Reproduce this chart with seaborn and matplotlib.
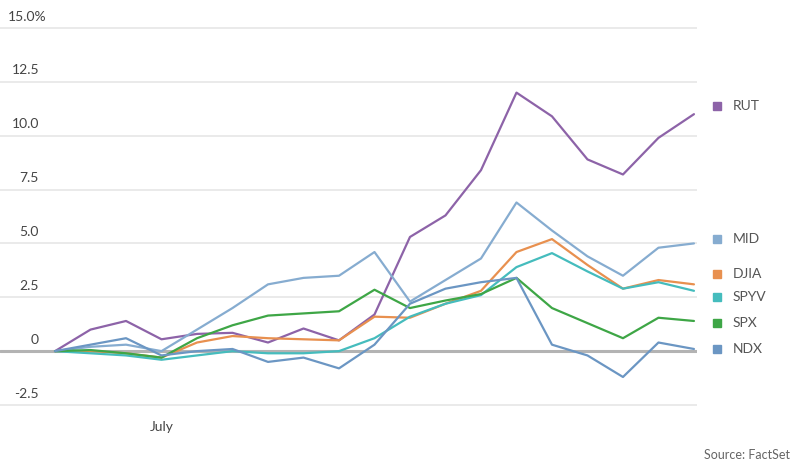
import pandas as pd
import numpy as np
import matplotlib
matplotlib.use("Agg")
import matplotlib.pyplot as plt
import matplotlib.transforms as mtransforms
import seaborn as sns

# data (percent change, 19 trading days)
days = list(range(19))
rut = [0, 1.0, 1.4, 0.55, 0.8, 0.85, 0.4, 1.05, 0.5, 1.7, 5.3, 6.3, 8.4, 12.0, 10.9, 8.9, 8.2, 9.9, 11.0]
mid = [0, 0.2, 0.3, 0.0, 1.0, 2.0, 3.1, 3.4, 3.5, 4.6, 2.3, 3.3, 4.3, 6.9, 5.6, 4.4, 3.5, 4.8, 5.0]
djia = [0, 0.0, -0.1, -0.3, 0.4, 0.7, 0.6, 0.55, 0.5, 1.6, 1.55, 2.2, 2.8, 4.6, 5.2, 4.0, 2.9, 3.3, 3.1]
spyv = [0, -0.1, -0.2, -0.4, -0.2, 0.0, -0.1, -0.1, 0.0, 0.6, 1.6, 2.2, 2.6, 3.9, 4.55, 3.7, 2.9, 3.2, 2.8]
spx = [0, 0.05, -0.1, -0.3, 0.6, 1.2, 1.65, 1.75, 1.85, 2.85, 2.0, 2.35, 2.65, 3.4, 2.0, 1.3, 0.6, 1.55, 1.4]
ndx = [0, 0.3, 0.6, -0.2, 0.0, 0.1, -0.5, -0.3, -0.8, 0.3, 2.2, 2.9, 3.2, 3.4, 0.3, -0.2, -1.2, 0.4, 0.1]

names = ["RUT", "MID", "DJIA", "SPYV", "SPX", "NDX"]
colors = ["#8d63a8", "#86acd0", "#e8904f", "#45bcbd", "#3ea646", "#6b96c3"]
label_y = [11.4, 5.2, 3.6, 2.5, 1.3, 0.1]   # where the end labels sit

yticks = [-2.5, 0, 2.5, 5.0, 7.5, 10.0, 12.5, 15.0]
ytick_labels = ["-2.5", "0", "2.5", "5.0", "7.5", "10.0", "12.5", "15.0%"]
xtick_pos = [3]
xtick_labels = ["July"]

df = pd.DataFrame({
    "day": days * 6,
    "value": rut + mid + djia + spyv + spx + ndx,
    "index": sum([[n] * len(days) for n in names], []),
})

sns.set_style("white")
plt.rcParams["font.family"] = ["Lato", "DejaVu Sans"]

fig = plt.figure(figsize=(8, 4.69), dpi=100)
ax = fig.add_axes([0.0, 0.125, 0.871, 0.8245])

# grid
for t in yticks:
    if t != 0:
        ax.axhline(t, color="#e6e6e6", lw=1.2, zorder=0)
ax.axhline(0, color="#b3b3b3", lw=2.2, zorder=1)

sns.lineplot(data=df, x="day", y="value", hue="index", palette=colors,
             hue_order=names, linewidth=1.6, legend=False, ax=ax, zorder=3)

ax.set_xlim(-1.55, 18.08)
ax.set_ylim(-2.75, 15.2)
for s in ax.spines.values():
    s.set_visible(False)
ax.set_yticks([])
ax.set_xticks(xtick_pos)
ax.set_xticklabels(xtick_labels, fontsize=10, color="#444444")
ax.tick_params(axis="x", length=4, width=0.8, color="#999999", pad=4)
ax.set_xlabel("")
ax.set_ylabel("")

# y tick labels sit above the gridlines
trans = mtransforms.blended_transform_factory(fig.transFigure, ax.transData)
for t, lab in zip(yticks, ytick_labels):
    if lab.endswith("%"):
        ax.text(8 / 800, t + 0.25, lab, transform=trans, ha="left", va="bottom",
                fontsize=10, color="#444444")
    else:
        ax.text(39 / 800, t + 0.25, lab, transform=trans, ha="right", va="bottom",
                fontsize=10, color="#444444")

# end labels
for n, c, ly in zip(names, colors, label_y):
    ax.plot([717 / 800], [ly], marker="s", markersize=6, color=c,
            transform=trans, clip_on=False)
    ax.text(733 / 800, ly, n, transform=trans, ha="left", va="center",
            fontsize=10, color="#555555")

fig.text(790 / 800, 1 - 455 / 469, "Source: FactSet", ha="right", va="center",
         fontsize=9, color="#666666")

fig.savefig("out.png", dpi=100)
